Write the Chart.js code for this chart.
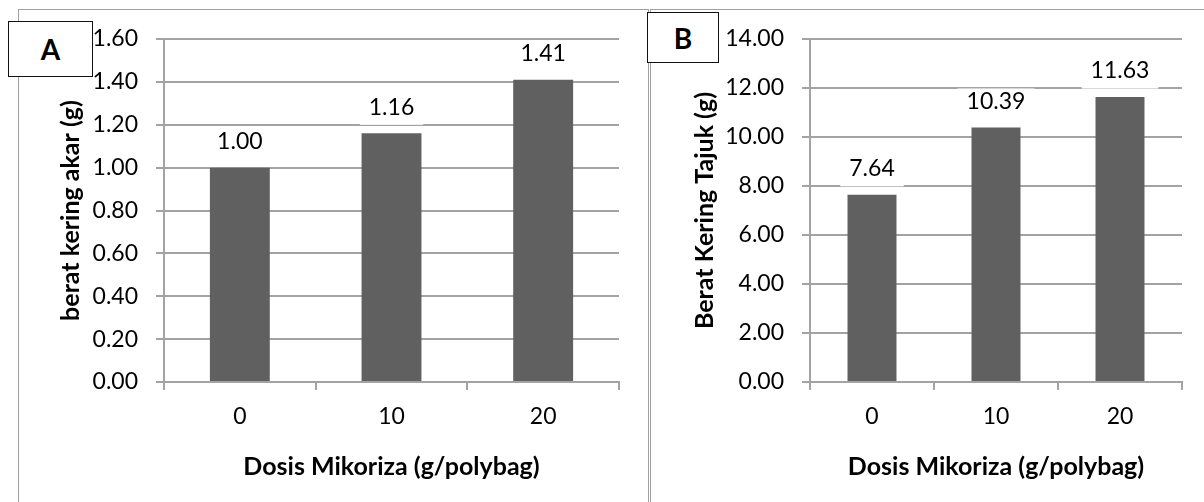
<!DOCTYPE html>
<html>
<head>
<meta charset="utf-8">
<script src="https://cdn.jsdelivr.net/npm/chart.js@4.4.1/dist/chart.umd.min.js"></script>
<style>
  html, body { margin: 0; padding: 0; background: #fff; }
  body { width: 1204px; height: 502px; position: relative; overflow: hidden; font-family: Lato, sans-serif; }
  .panel { position: absolute; border: 1.5px solid #a0a0a0; box-sizing: border-box; }
  .tag { position: absolute; border: 1.5px solid #111; background: #fff; box-sizing: border-box;
         font-weight: bold; font-size: 28px; color: #000; display: flex; align-items: center; justify-content: center; z-index: 3; }
  canvas { position: absolute; z-index: 1; }
</style>
</head>
<body>
<div class="panel" style="left:18px; top:9px; width:631px; height:520px;"></div>
<div class="panel" style="left:650px; top:9px; width:600px; height:520px;"></div>
<canvas id="chartA" width="648" height="502" style="left:0; top:0;"></canvas>
<canvas id="chartB" width="554" height="502" style="left:650px; top:0;"></canvas>
<div class="tag" style="left:8px; top:21px; width:85px; height:56px;">A</div>
<div class="tag" style="left:647px; top:12px; width:72px; height:51px;">B</div>
<script>
// Dosis mikoriza (g/polybag)
const categories = ['0', '10', '20'];
// Berat kering akar (g)
const akarValues = [1.00, 1.16, 1.41];
// Berat kering tajuk (g)
const tajukValues = [7.64, 10.39, 11.63];
// Y-axis ranges
const akarAxis = { max: 1.6, step: 0.2 };
const tajukAxis = { max: 14, step: 2 };

const FONT = 'Lato, "Open Sans", sans-serif';
const GRID = '#a3a3a3';
const BAR = '#606060';

// value labels above each bar, on a white box that hides gridlines behind them
const valueLabels = {
  id: 'valueLabels',
  afterDatasetsDraw(chart) {
    const ctx = chart.ctx;
    const meta = chart.getDatasetMeta(0);
    const data = chart.data.datasets[0].data;
    ctx.save();
    ctx.font = '23px ' + FONT;
    ctx.textAlign = 'center';
    ctx.textBaseline = 'middle';
    meta.data.forEach((bar, i) => {
      const txt = data[i].toFixed(2);
      const cy = bar.y - 27;
      const w = ctx.measureText(txt).width + 18;
      ctx.fillStyle = '#fff';
      ctx.fillRect(bar.x - w / 2, cy - 12, w, 30.5);
      ctx.fillStyle = '#000';
      ctx.fillText(txt, bar.x, cy + 1);
    });
    ctx.restore();
  }
};

function makeChart(id, values, axis, yTitle, yWidth, yTitlePad, padRight) {
  return new Chart(document.getElementById(id), {
    type: 'bar',
    data: {
      labels: categories,
      datasets: [{
        data: values,
        backgroundColor: BAR,
        borderWidth: 0,
        barPercentage: 0.395,
        categoryPercentage: 1
      }]
    },
    options: {
      responsive: false,
      animation: false,
      events: [],
      layout: { padding: { left: 0, right: padRight, top: 39, bottom: 0 } },
      plugins: { legend: { display: false }, tooltip: { enabled: false } },
      scales: {
        x: {
          grid: { offset: true, drawOnChartArea: false, tickLength: 8, color: GRID, lineWidth: 2 },
          border: { display: true, color: GRID, width: 2 },
          ticks: { color: '#000', padding: 13, font: { family: FONT, size: 23 } },
          title: {
            display: true, text: 'Dosis Mikoriza (g/polybag)', color: '#000',
            font: { family: FONT, size: 25, weight: 'bold' }, padding: { top: 0, bottom: 20 }
          },
          afterFit(scale) { scale.height = 120; }
        },
        y: {
          min: 0, max: axis.max,
          grid: { tickLength: 8, color: GRID, lineWidth: 2 },
          border: { display: true, color: GRID, width: 2 },
          ticks: {
            stepSize: axis.step, color: '#000', padding: 18,
            font: { family: FONT, size: 23 },
            callback: v => Number(v).toFixed(2)
          },
          title: {
            display: true, text: yTitle, color: '#000',
            font: { family: FONT, size: 25, weight: 'bold' }, padding: { top: yTitlePad, bottom: 0 }
          },
          afterFit(scale) { scale.width = yWidth; }
        }
      }
    },
    plugins: [valueLabels]
  });
}

makeChart('chartA', akarValues, akarAxis, 'berat kering akar (g)', 164, 56, 29);
makeChart('chartB', tajukValues, tajukAxis, 'Berat Kering Tajuk (g)', 160, 40, 22);
</script>
</body>
</html>
